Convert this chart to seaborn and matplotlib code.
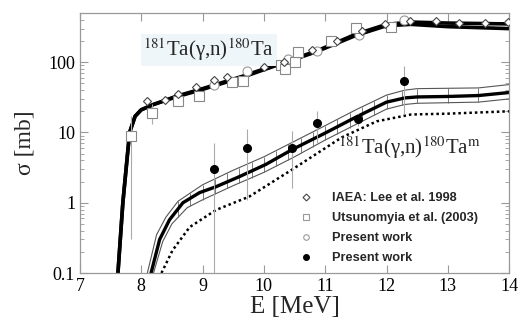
import numpy as np
import pandas as pd
import matplotlib
matplotlib.use("Agg")
import matplotlib.pyplot as plt
import seaborn as sns
from matplotlib.lines import Line2D
from matplotlib.ticker import LogLocator, NullFormatter, FixedLocator

sns.set_style("ticks")
plt.rcParams["font.family"] = ["Liberation Serif", "DejaVu Serif"]
plt.rcParams["mathtext.fontset"] = "stix"

# --- (gamma,n) total: theory curves (two close thick lines)
tot_e = [7.62, 7.70, 7.81, 7.90, 8.00, 8.20, 8.57, 9.00, 9.65, 10.00, 10.85, 11.50, 12.00, 12.40, 13.00, 14.00]
tot_hi = [0.1, 1.0, 10.0, 17.0, 21.0, 25.0, 32.7, 42.0, 63.0, 80.0, 143.0, 250.0, 345.0, 372.0, 360.0, 350.0]
tot_lo = [0.1, 1.0, 10.0, 17.0, 21.0, 25.0, 32.0, 41.0, 61.0, 78.0, 140.0, 240.0, 330.0, 345.0, 320.0, 300.0]

# --- isomer: theory thick line, band edges, dotted line
iso_e = [8.16, 8.30, 8.46, 8.68, 8.95, 9.22, 9.60, 10.03, 10.46, 11.00, 11.50, 12.00, 12.30, 12.50, 13.00, 13.50, 14.00]
iso_mid = [0.1, 0.30, 0.57, 1.0, 1.39, 1.69, 2.35, 3.5, 5.7, 9.8, 16.5, 27.0, 31.0, 32.0, 32.5, 33.5, 37.0]
band_up_e = [8.10, 8.25, 8.40, 8.60, 9.00, 9.50, 10.00, 10.50, 11.00, 11.50, 12.00, 12.30, 12.50, 13.50, 14.00]
band_up = [0.1, 0.35, 0.62, 1.05, 1.8, 2.9, 4.5, 7.5, 12.5, 21.0, 34.0, 40.0, 42.0, 43.0, 48.0]
band_lo_e = [8.20, 8.35, 8.50, 8.75, 9.00, 9.50, 10.00, 10.50, 11.00, 11.50, 12.00, 12.30, 12.50, 13.50, 14.00]
band_lo = [0.1, 0.28, 0.50, 0.85, 1.1, 1.75, 2.7, 4.5, 7.8, 13.0, 21.5, 25.0, 26.0, 27.0, 30.0]
band_hatch = [8.6, 8.8, 9.0, 9.2, 9.4, 9.6, 9.8, 10.0, 10.2, 10.4, 10.6, 10.8, 11.0, 11.2,
              11.4, 11.6, 11.8, 12.0, 12.25, 12.5, 13.0, 13.5]
dot_e = [8.33, 8.51, 8.79, 9.22, 9.76, 10.46, 11.27, 11.84, 12.40, 13.00, 14.00]
dot_v = [0.1, 0.21, 0.45, 0.79, 1.22, 2.96, 8.5, 14.4, 18.0, 18.5, 20.0]

# --- measured points
iaea_e = [8.09, 8.39, 8.60, 8.90, 9.19, 9.40, 10.00, 10.33, 10.79, 11.20, 11.60, 11.98,
          12.39, 12.80, 13.19, 13.60, 13.98]
iaea_v = [27.7, 29.0, 35.0, 44.0, 55.0, 61.0, 85.0, 100.0, 148.0, 200.0, 277.0, 350.0,
          385.0, 380.0, 360.0, 360.0, 370.0]
uts_e = [7.83, 8.17, 8.60, 8.94, 9.48, 9.66, 10.28, 10.34, 10.50, 10.55, 11.10, 11.50, 12.08]
uts_v = [8.8, 19.0, 28.0, 33.0, 52.0, 54.0, 90.0, 80.0, 100.0, 139.0, 200.0, 306.0, 315.0]
uts_err = [8.5, 6.0, 0, 0, 0, 0, 0, 0, 0, 0, 0, 0, 0]
pw_open_e = [9.19, 9.72, 10.40, 10.87, 11.55, 12.28]
pw_open_v = [48.0, 74.0, 110.0, 143.0, 243.0, 400.0]
pw_full_e = [9.19, 9.73, 10.46, 10.87, 11.53, 12.28]
pw_full_v = [3.06, 6.1, 6.1, 13.5, 15.3, 53.5]
pw_full_err = [4.1, 5.0, 4.5, 6.5, 3.0, 35.0]

fig = plt.figure(figsize=(5.19, 3.18), dpi=100)
ax = fig.add_axes([0.154, 0.1415, 0.827, 0.8175])
ax.set_yscale("log")

# theory, total
sns.lineplot(x=tot_e, y=tot_hi, ax=ax, color="black", lw=2.6, sort=False, estimator=None)
sns.lineplot(x=tot_e, y=tot_lo, ax=ax, color="black", lw=2.6, sort=False, estimator=None)

# theory, isomer band
sns.lineplot(x=band_up_e, y=band_up, ax=ax, color="#555555", lw=0.8, sort=False, estimator=None)
sns.lineplot(x=band_lo_e, y=band_lo, ax=ax, color="#555555", lw=0.8, sort=False, estimator=None)
hu = np.exp(np.interp(band_hatch, band_up_e, np.log(band_up)))
hl = np.exp(np.interp(band_hatch, band_lo_e, np.log(band_lo)))
ax.vlines(band_hatch, hl, hu, color="#666666", lw=0.6)
sns.lineplot(x=iso_e, y=iso_mid, ax=ax, color="black", lw=2.4, sort=False, estimator=None)
sns.lineplot(x=dot_e, y=dot_v, ax=ax, color="black", lw=1.8, ls=(0, (1, 1.2)),
             sort=False, estimator=None)

# data
ax.errorbar(uts_e, uts_v, yerr=uts_err, fmt="s", ms=6.5, mfc="white", mec="#888888",
            mew=0.8, ecolor="#aaaaaa", elinewidth=0.8, zorder=4)
ax.errorbar(pw_full_e, pw_full_v, yerr=pw_full_err, fmt="none", ecolor="#aaaaaa",
            elinewidth=0.8, zorder=3)
ax.plot(iaea_e, iaea_v, "D", ms=4.2, mfc="white", mec="#444444", mew=0.8, zorder=5)
ax.plot(pw_open_e, pw_open_v, "o", ms=6.5, mfc="white", mec="#999999", mew=0.8, zorder=4)
ax.plot(pw_full_e, pw_full_v, "o", ms=5.5, color="black", zorder=5)

ax.set_xlim(7, 14)
ax.set_ylim(0.1, 500)

ax.text(9.1, 150, r"$^{181}$Ta(γ,n)$^{180}$Ta", fontsize=15, ha="center", va="center",
        bbox=dict(facecolor="#eef6f9", edgecolor="none", pad=2))
ax.text(12.37, 6.0, r"$^{181}$Ta(γ,n)$^{180}$Ta$^{\rm m}$", fontsize=15,
        ha="center", va="center")

# axes styling
for sp in ax.spines.values():
    sp.set_color("#999999")
    sp.set_linewidth(0.9)
ax.xaxis.set_major_locator(FixedLocator(range(7, 15)))
ax.yaxis.set_major_locator(FixedLocator([0.1, 1, 10, 100]))
ax.set_yticklabels(["0.1", "1", "10", "100"])
ax.yaxis.set_minor_locator(LogLocator(base=10, subs=np.arange(2, 10)))
ax.yaxis.set_minor_formatter(NullFormatter())
ax.tick_params(which="both", direction="in", top=True, right=True, colors="#999999",
               labelcolor="black", labelsize=13)
ax.tick_params(which="major", length=6, width=0.8)
ax.tick_params(which="minor", length=3, width=0.6)

ax.set_xlabel("E [MeV]", fontsize=18, labelpad=1)
ax.set_ylabel("σ [mb]", fontsize=17, labelpad=9)

handles = [
    Line2D([], [], ls="none", marker="D", ms=3.5, mfc="white", mec="#444444", mew=0.8),
    Line2D([], [], ls="none", marker="s", ms=4, mfc="white", mec="#999999", mew=0.8),
    Line2D([], [], ls="none", marker="o", ms=4, mfc="white", mec="#999999", mew=0.8),
    Line2D([], [], ls="none", marker="o", ms=4, color="black"),
]
labels = ["IAEA: Lee et al. 1998", "Utsunomyia et al. (2003)", "Present work", "Present work"]
ax.legend(handles, labels, loc="upper left", bbox_to_anchor=(0.49, 0.345), frameon=False,
          prop={"family": "Liberation Sans", "weight": "bold", "size": 9.2},
          handlelength=1.0, handletextpad=1.6, labelspacing=0.62, borderpad=0.2)

fig.savefig("out.png", dpi=100)
